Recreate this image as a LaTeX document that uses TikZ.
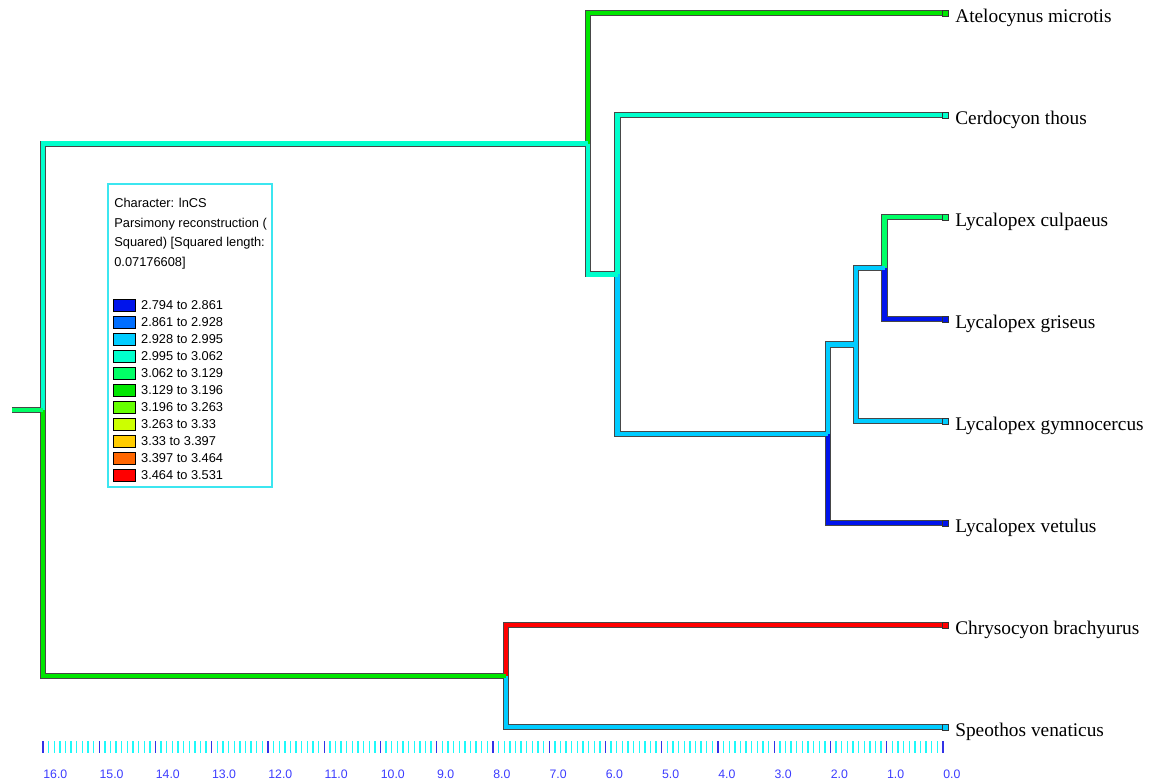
\documentclass[tikz,border=0pt]{standalone}
\usepackage{fontspec}
\usepackage{tikz}
\usetikzlibrary{positioning}
\setmainfont{Liberation Serif}
\newfontfamily\legendsans{Liberation Sans}
\definecolor{cBlue}{RGB}{0,20,235}
\definecolor{cAzure}{RGB}{0,110,255}
\definecolor{cSky}{RGB}{0,204,255}
\definecolor{cTurq}{RGB}{0,255,204}
\definecolor{cSpring}{RGB}{0,255,102}
\definecolor{cGreen}{RGB}{0,230,0}
\definecolor{cLime}{RGB}{102,255,0}
\definecolor{cYellow}{RGB}{204,255,0}
\definecolor{cAmber}{RGB}{255,204,0}
\definecolor{cOrange}{RGB}{255,102,0}
\definecolor{cRed}{RGB}{255,0,0}
\definecolor{cFrame}{RGB}{60,230,240}
\definecolor{cTickLight}{RGB}{30,250,250}
\definecolor{cTickDark}{RGB}{50,50,230}
\definecolor{cScale}{RGB}{60,60,255}
\tikzset{
	brancho/.style  ={line width=3.5pt, draw=black!72},
	branchf/.style  ={line width=2.5pt},
	tipmark/.style  ={rectangle, draw=black!80, line width=0.5pt, minimum size=0.12cm, inner sep=0pt},
	taxon/.style    ={font=\fontsize{11}{13}\selectfont, inner sep=0pt, yshift=-2.8pt},
	% legend styles
	legtext/.style  ={font=\legendsans\fontsize{7.3}{9}\selectfont, inner sep=0pt},
	swatch/.style   ={rectangle, draw=black, line width=0.6pt, minimum width=0.43cm, minimum height=0.23cm, inner sep=0pt},
	legframe/.style ={rectangle, draw=cFrame, line width=0.8pt, minimum width=3.28cm, minimum height=6.06cm, inner sep=0pt},
	% time scale styles
	minortick/.style={draw=cTickLight, line width=0.8pt},
	majortick/.style={draw=cTickDark, line width=0.8pt},
	scalelbl/.style ={font=\legendsans\fontsize{7}{8}\selectfont, text=cScale, inner sep=0pt, anchor=west},
}
\def\branchlist{nE/cul/cSpring, nE/gri/cBlue, nD/nE/cSky, nD/gym/cSky, nC/nD/cSky, nC/vet/cBlue, nB/cer/cTurq, nB/nC/cSky, nA/ate/cGreen, nA/nB/cTurq, nF/chr/cRed, nF/spe/cSky, root/nA/cTurq, root/nF/cGreen}

\begin{document}
\begin{tikzpicture}[x=0.02cm, y=-0.02cm, node distance=0.13cm]
	\useasboundingbox (0,0) rectangle (1151,783);
	% internal nodes
	\coordinate (base) at (12,410);
	\coordinate (root) at (43,410);
	\coordinate (nA) at (588,143.7);
	\coordinate (nB) at (617.5,274.4);
	\coordinate (nC) at (828,433.8);
	\coordinate (nD) at (856,344.5);
	\coordinate (nE) at (884.5,268);
	\coordinate (nF) at (506,676);
	% tips
	\foreach \t/\y/\col/\name in {ate/13/cGreen/Atelocynus microtis, cer/115/cTurq/Cerdocyon thous, cul/217/cSpring/Lycalopex culpaeus, gri/319/cBlue/Lycalopex griseus, gym/421/cSky/Lycalopex gymnocercus, vet/523/cBlue/Lycalopex vetulus, chr/625/cRed/Chrysocyon brachyurus, spe/727/cSky/Speothos venaticus}{
		\node[tipmark, fill=\col] (\t) at (945,\y) {};
		\node[taxon, right=of \t] (l\t) {\name};
	}
	% branches: outlines first, colours on top
	\foreach \p/\c/\col in \branchlist { \draw[brancho] (\p) |- (\c); }
	\draw[brancho] (base) -- (root);
	\foreach \p/\c/\col in \branchlist { \draw[branchf, \col] (\p) |- (\c); }
	\draw[branchf, cSpring] (base) -- (root);

	% legend
	\node[legframe] (legend) at (190,335.5) {};
	\node[legtext, anchor=base west] (leg1) at (114,208) {Character: lnCS};
	\node[legtext, anchor=base west] (leg2) at (114,227.5) {Parsimony reconstruction (};
	\node[legtext, anchor=base west] (leg3) at (114,247) {Squared) [Squared length:};
	\node[legtext, anchor=base west] (leg4) at (114,266.5) {0.07176608]};
	\foreach \i/\col/\range in {1/cBlue/2.794 to 2.861, 2/cAzure/2.861 to 2.928, 3/cSky/2.928 to 2.995, 4/cTurq/2.995 to 3.062, 5/cSpring/3.062 to 3.129, 6/cGreen/3.129 to 3.196, 7/cLime/3.196 to 3.263, 8/cYellow/3.263 to 3.33, 9/cAmber/3.33 to 3.397, 10/cOrange/3.397 to 3.464, 11/cRed/3.464 to 3.531}{
		\node[swatch, fill=\col] (sw\i) at (124.5,288.5+17*\i) {};
		\node[legtext, right=0.1cm of sw\i] (rg\i) {\range};
	}

	% time scale
	\foreach \i in {0,...,160}{
		\draw[minortick] (943-5.625*\i,741) -- (943-5.625*\i,753);
	}
	\foreach \k in {0,...,16}{
		\draw[majortick] (943-56.25*\k,741) -- (943-56.25*\k,753);
		\node[scalelbl] (sc\k) at (943-56.25*\k,774) {\k.0};
	}
\end{tikzpicture}
\end{document}
